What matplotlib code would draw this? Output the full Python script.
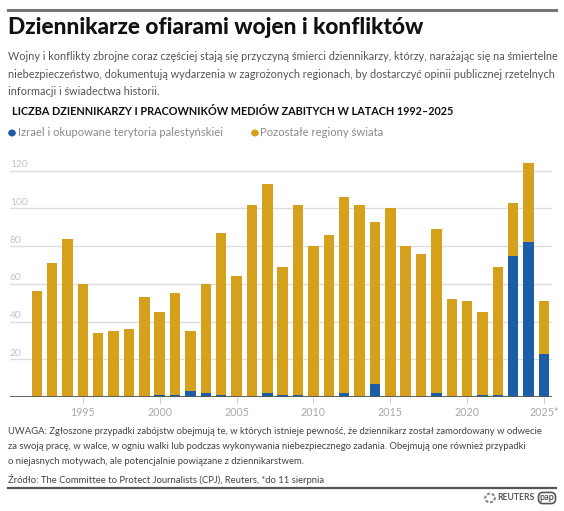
import matplotlib
matplotlib.use("Agg")
import matplotlib.pyplot as plt
from matplotlib.patches import Circle
import numpy as np

# ---- data ----
years = list(range(1992, 2026))
israel = [0, 0, 0, 0, 0, 0, 0, 0, 1, 1, 3, 2, 1, 0, 0, 2, 1, 1, 0, 0,
          2, 0, 7, 0, 0, 0, 2, 0, 0, 1, 1, 75, 82, 23]
other = [56, 71, 84, 60, 34, 35, 36, 53, 44, 54, 32, 58, 86, 64, 102, 111, 68, 101, 80, 86,
         104, 102, 86, 100, 80, 76, 87, 52, 51, 44, 68, 28, 42, 28]
xtick_years = [1995, 2000, 2005, 2010, 2015, 2020, 2025]
xtick_labels = ["1995", "2000", "2005", "2010", "2015", "2020", "2025*"]
ytick_vals = [20, 40, 60, 80, 100, 120]

title = "Dziennikarze ofiarami wojen i konfliktów"
subtitle = ["Wojny i konflikty zbrojne coraz częściej stają się przyczyną śmierci dziennikarzy, którzy, narażając się na śmiertelne",
            "niebezpieczeństwo, dokumentują wydarzenia w zagrożonych regionach, by dostarczyć opinii publicznej rzetelnych",
            "informacji i świadectwa historii."]
chart_title = "LICZBA DZIENNIKARZY I PRACOWNIKÓW MEDIÓW ZABITYCH W LATACH 1992–2025"
legend_labels = ["Izrael i okupowane terytoria palestyńskiei", "Pozostałe regiony świata"]
note = ["UWAGA: Zgłoszone przypadki zabójstw obejmują te, w których istnieje pewność, że dziennikarz został zamordowany w odwecie",
        "za swoją pracę, w walce, w ogniu walki lub podczas wykonywania niebezpiecznego zadania. Obejmują one również przypadki",
        "o niejasnych motywach, ale potencjalnie powiązane z dziennikarstwem."]
source = "Źródło: The Committee to Protect Journalists (CPJ), Reuters, *do 11 sierpnia"

BLUE = "#1B5EA7"
GOLD = "#D5A11C"
FONT = ["Lato", "DejaVu Sans"]
plt.rcParams["font.family"] = FONT

W, H = 564, 511
fig = plt.figure(figsize=(W / 100, H / 100), dpi=100)

def px(size_px):
    return size_px * 0.72

def fx(x):
    return x / W

def fy(y):
    return 1 - y / H

# top rule
fig.add_artist(plt.Line2D([fx(8), fx(556)], [fy(10), fy(10)], color="#777777", lw=2.2))
fig.text(fx(8), fy(34), title, fontsize=px(22.6), fontweight="black", color="#111111", va="baseline")
for i, line in enumerate(subtitle):
    fig.text(fx(8), fy(57 + i * 17.3), line, fontsize=px(10.86), color="#555555", va="center")
fig.text(fx(12), fy(111), chart_title, fontsize=px(10.9), fontweight="bold", color="#111111", va="center")

# legend
fig.add_artist(Circle((fx(12), fy(133)), 0.0055, transform=fig.transFigure, color=BLUE))
fig.text(fx(17.5), fy(133), legend_labels[0], fontsize=px(11.2), color="#8A8A8A", va="center")
fig.add_artist(Circle((fx(255), fy(133)), 0.0055, transform=fig.transFigure, color=GOLD))
fig.text(fx(260.5), fy(133), legend_labels[1], fontsize=px(11.2), color="#8A8A8A", va="center")

# axes
ax = fig.add_axes([fx(10), 114 / H, (552 - 10) / W, 237.6 / H])
x = np.array(years)
ax.bar(x, israel, width=0.68, color=BLUE, zorder=3)
ax.bar(x, other, width=0.68, bottom=israel, color=GOLD, zorder=3)
ax.set_xlim(1990.26, 2025.52)
ax.set_ylim(0, 126)
for v in ytick_vals:
    ax.axhline(v, color="#DDDDDD", lw=1, zorder=1)
    ax.text(0.0, v + 3.2, str(v), transform=ax.get_yaxis_transform(), fontsize=px(10.2),
            color="#C4C4C4", ha="left", va="center")
ax.axhline(0, color="#555555", lw=1.3, zorder=4)
ax.set_yticks([])
ax.set_xticks(xtick_years)
ax.set_xticklabels(xtick_labels, fontsize=px(10.6), color="#A8A8A8")
ax.tick_params(axis="x", length=4, color="#CCCCCC", pad=3)
for s in ax.spines.values():
    s.set_visible(False)
ax.patch.set_alpha(0)

# note and source
for i, line in enumerate(note):
    fig.text(fx(8), fy(431 + i * 15.5), line, fontsize=px(9.5), color="#444444", va="center")
fig.text(fx(8), fy(479), source, fontsize=px(9.5), color="#444444", va="center")
fig.add_artist(plt.Line2D([fx(8), fx(556)], [fy(487.5), fy(487.5)], color="#555555", lw=1.6))

# logos
fig.add_artist(Circle((fx(490), fy(498)), 0.0085, transform=fig.transFigure,
                      facecolor="none", edgecolor="#888888", lw=1.5, ls=(0, (1.5, 0.8))))
fig.text(fx(497), fy(498), "REUTERS", fontsize=px(8.6), fontweight="bold", color="#555555", va="center")
fig.text(fx(547), fy(498), "pap", fontsize=px(9), fontweight="bold", color="#555555", va="center", ha="center",
         bbox=dict(boxstyle="round,pad=0.12,rounding_size=0.5", fc="white", ec="#555555", lw=1.2))

fig.savefig("out.png", dpi=100)
